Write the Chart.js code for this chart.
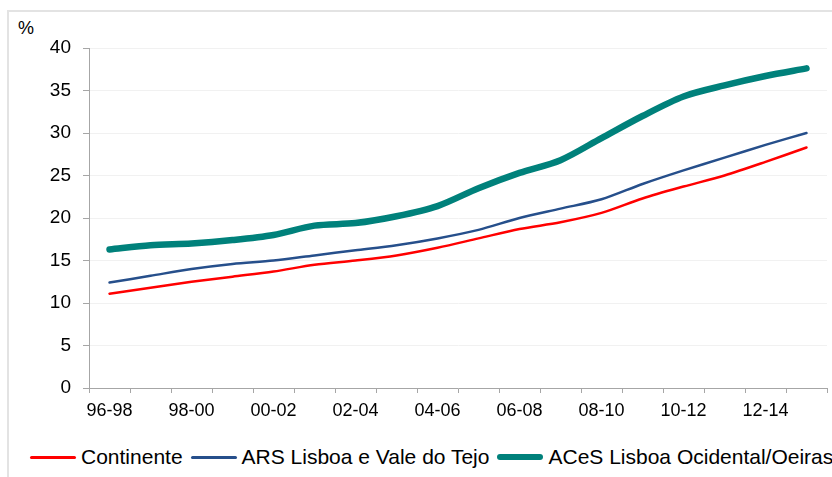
<!DOCTYPE html>
<html>
<head>
<meta charset="utf-8">
<script src="https://cdn.jsdelivr.net/npm/chart.js@4/dist/chart.umd.min.js"></script>
<style>
  body { margin: 0; width: 832px; height: 477px; overflow: hidden; background: #fff;
         font-family: "Liberation Sans", Arial, sans-serif; color: #000; }
  .frame { position: absolute; left: 7px; top: 10px; width: 900px; height: 520px; border: 2px solid #e3e3e3; }
  #wrap { position: absolute; left: 0; top: 0; width: 832px; height: 430px; }
  .unit { position: absolute; left: 18px; top: 18px; font-size: 18px; }
  .legend { position: absolute; left: 30px; top: 445px; white-space: nowrap; font-size: 21px;
            line-height: 24px; display: flex; align-items: center; }
  .legend i { display: inline-block; width: 46px; border-radius: 3px; margin-right: 5px; }
  .legend span { margin-right: 8px; }
</style>
</head>
<body>
<div class="frame"></div>
<div class="unit">%</div>
<div id="wrap"><canvas id="myChart"></canvas></div>
<div class="legend" id="legend"></div>

<script>
// periods (3-year moving windows)
const periods = ['96-98', '97-99', '98-00', '99-01', '00-02', '01-03', '02-04', '03-05', '04-06',
                 '05-07', '06-08', '07-09', '08-10', '09-11', '10-12', '11-13', '12-14', '13-15'];
const shownPeriods = ['96-98', '98-00', '00-02', '02-04', '04-06', '06-08', '08-10', '10-12', '12-14'];
const yTicks = [0, 5, 10, 15, 20, 25, 30, 35, 40];

const continente = [11.1, 11.8, 12.5, 13.1, 13.7, 14.5, 15.0, 15.6, 16.5,
                    17.6, 18.7, 19.5, 20.6, 22.3, 23.7, 25.0, 26.6, 28.3];
const arsLvt = [12.4, 13.2, 14.0, 14.6, 15.0, 15.6, 16.2, 16.8, 17.6,
                18.6, 20.0, 21.1, 22.2, 24.0, 25.6, 27.1, 28.6, 30.0];
const acesOeiras = [16.3, 16.8, 17.0, 17.4, 18.0, 19.1, 19.4, 20.2, 21.4,
                    23.5, 25.3, 26.8, 29.4, 32.0, 34.3, 35.6, 36.7, 37.6];

const series = [
    { label: 'Continente', data: continente, color: '#ff0000', width: 2.5 },
    { label: 'ARS Lisboa e Vale do Tejo', data: arsLvt, color: '#264f8b', width: 2.5 },
    { label: 'ACeS Lisboa Ocidental/Oeiras', data: acesOeiras, color: '#00817b', width: 6.5 }
];

Chart.defaults.font.family = "'Liberation Sans', Arial, sans-serif";
Chart.defaults.color = '#000';

const axisGrey = '#a6a6a6';

const myChart = new Chart('myChart', {
    type: 'line',
    data: {
        labels: periods,
        datasets: series.map(s => ({
            label: s.label,
            data: s.data,
            borderColor: s.color,
            backgroundColor: s.color,
            borderWidth: s.width,
            borderCapStyle: 'round',
            borderJoinStyle: 'round',
            pointRadius: 0,
            tension: 0.3,
            fill: false
        }))
    },
    options: {
        responsive: true,
        maintainAspectRatio: false,
        animation: false,
        layout: { padding: { top: 48, right: 5, left: 0, bottom: 0 } },
        scales: {
            x: {
                offset: true,
                grid: { offset: true, drawOnChartArea: false, tickLength: 5, color: axisGrey },
                border: { color: axisGrey },
                ticks: {
                    autoSkip: false,
                    maxRotation: 0,
                    padding: 7,
                    font: { size: 18 },
                    callback: function (v) {
                        const l = this.getLabelForValue(v);
                        return shownPeriods.includes(l) ? l : '';
                    }
                },
                afterFit: s => { s.height = 42; }
            },
            y: {
                min: 0,
                max: 40,
                afterBuildTicks: s => { s.ticks = yTicks.map(v => ({ value: v })); },
                grid: { color: '#f1f1f1', tickColor: axisGrey, tickLength: 6 },
                border: { color: axisGrey },
                ticks: { padding: 12, font: { size: 19 } },
                afterFit: s => { s.width = 89; }
            }
        },
        plugins: {
            legend: false,
            tooltip: { enabled: false }
        }
    }
});

// legend under the plot
const legend = document.getElementById('legend');
series.forEach(s => {
    const mark = document.createElement('i');
    mark.style.background = s.color;
    mark.style.height = (s.width > 4 ? 6 : 3) + 'px';
    const text = document.createElement('span');
    text.textContent = s.label;
    legend.appendChild(mark);
    legend.appendChild(text);
});
</script>
</body>
</html>
